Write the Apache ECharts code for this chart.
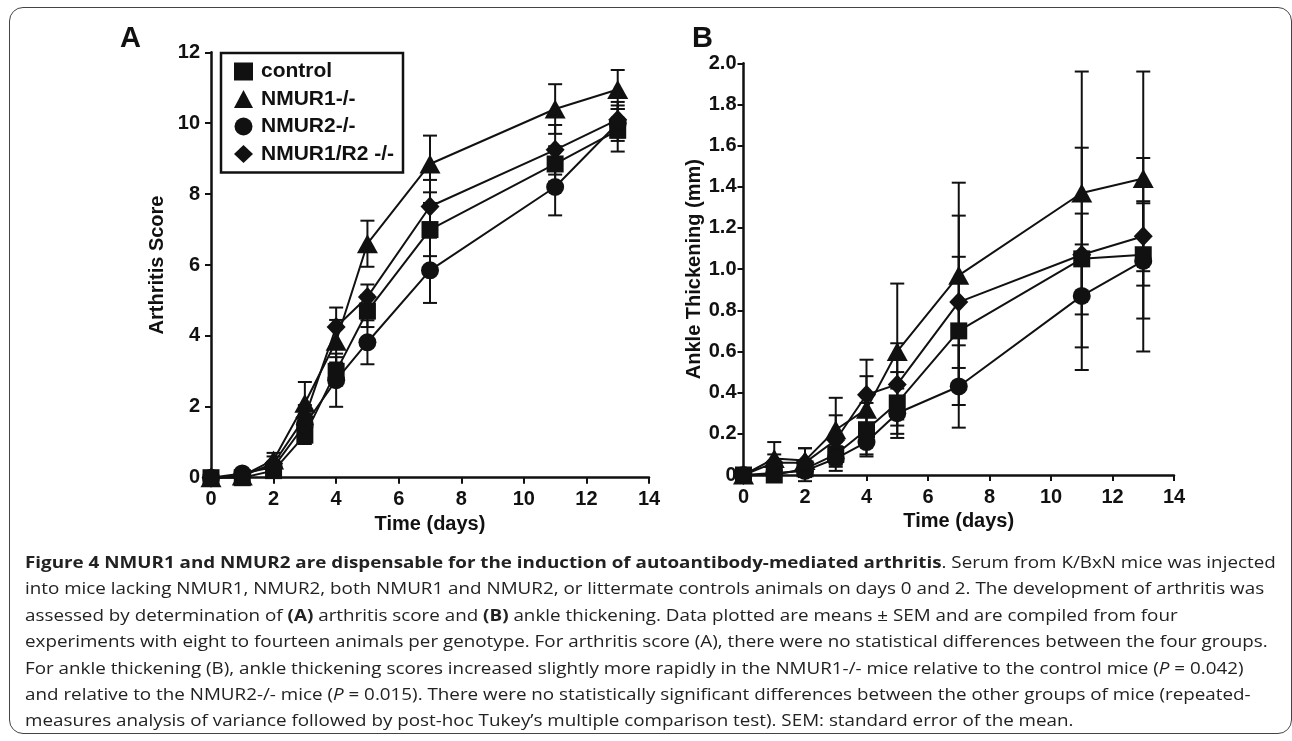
<!DOCTYPE html>
<html>
<head>
<meta charset="utf-8">
<script src="https://cdn.jsdelivr.net/npm/echarts@6/dist/echarts.min.js"></script>
<style>
  html, body { margin: 0; padding: 0; background: #fff; }
  #wrap { position: relative; width: 1292px; height: 741px; overflow: hidden; }
  #chart { position: absolute; left: 0; top: 0; width: 1292px; height: 741px; }
  #frame { position: absolute; left: 9px; top: 7px; width: 1283px; height: 727px; border: 1.5px solid #444; border-radius: 14px; box-sizing: border-box; pointer-events: none; }
  #caption { position: absolute; left: 25px; top: 549px; font-family: "Open Sans", "Noto Sans", sans-serif; font-size: 16.5px; line-height: 26.4px; color: #222; transform: scaleX(1.14); transform-origin: 0 0; }
  #caption div { white-space: nowrap; }
</style>
</head>
<body>
<div id="wrap">
  <div id="chart"></div>
  <div id="frame"></div>
  <div id="caption">
    <div><b>Figure 4 NMUR1 and NMUR2 are dispensable for the induction of autoantibody-mediated arthritis</b>. Serum from K/BxN mice was injected</div>
    <div>into mice lacking NMUR1, NMUR2, both NMUR1 and NMUR2, or littermate controls animals on days 0 and 2. The development of arthritis was</div>
    <div>assessed by determination of <b>(A)</b> arthritis score and <b>(B)</b> ankle thickening. Data plotted are means ± SEM and are compiled from four</div>
    <div>experiments with eight to fourteen animals per genotype. For arthritis score (A), there were no statistical differences between the four groups.</div>
    <div>For ankle thickening (B), ankle thickening scores increased slightly more rapidly in the NMUR1-/- mice relative to the control mice (<i>P</i> = 0.042)</div>
    <div>and relative to the NMUR2-/- mice (<i>P</i> = 0.015). There were no statistically significant differences between the other groups of mice (repeated-</div>
    <div>measures analysis of variance followed by post-hoc Tukey’s multiple comparison test). SEM: standard error of the mean.</div>
  </div>
</div>
<script>
// ---- data ----
var days = [0, 1, 2, 3, 4, 5, 7, 11, 13];
var groupNames = ['control', 'NMUR1-/-', 'NMUR2-/-', 'NMUR1/R2 -/-'];

// Panel A: arthritis score (mean, SEM)
var controlA     = [0, 0,    0.2,  1.2,  3.0,  4.7,  7.0,  8.85, 9.8];
var controlA_sem = [0, 0,    0.1,  0.25, 0.4,  0.45, 0.75, 0.5,  0.6];
var nmur1A       = [0, 0.05, 0.5,  2.1,  3.85, 6.6,  8.85, 10.4, 10.95];
var nmur1A_sem   = [0, 0.05, 0.2,  0.6,  0.6,  0.65, 0.8,  0.7,  0.55];
var nmur2A       = [0, 0.12, 0.3,  1.5,  2.75, 3.82, 5.85, 8.2,  10.0];
var nmur2A_sem   = [0, 0.08, 0.15, 0.3,  0.75, 0.62, 0.92, 0.8,  0.5];
var dkoA         = [0, 0.05, 0.4,  1.7,  4.25, 5.1,  7.65, 9.25, 10.1];
var dkoA_sem     = [0, 0.05, 0.2,  0.35, 0.55, 0.35, 0.75, 0.7,  0.5];

// Panel B: ankle thickening in mm (mean, SEM)
var controlB     = [0, 0.0,  0.03, 0.10, 0.22, 0.35, 0.70, 1.05, 1.07];
var controlB_sem = [0, 0.02, 0.03, 0.06, 0.13, 0.15, 0.36, 0.54, 0.47];
var nmur1B       = [0, 0.08, 0.07, 0.22, 0.32, 0.60, 0.97, 1.37, 1.44];
var nmur1B_sem   = [0, 0.08, 0.06, 0.155,0.16, 0.33, 0.45, 0.59, 0.52];
var nmur2B       = [0, 0.01, 0.02, 0.08, 0.16, 0.30, 0.43, 0.87, 1.04];
var nmur2B_sem   = [0, 0.01, 0.05, 0.06, 0.06, 0.12, 0.20, 0.25, 0.28];
var dkoB         = [0, 0.06, 0.06, 0.17, 0.39, 0.44, 0.84, 1.07, 1.16];
var dkoB_sem     = [0, 0.04, 0.07, 0.12, 0.17, 0.20, 0.42, 0.20, 0.17];

var xTicks = [0, 2, 4, 6, 8, 10, 12, 14];
var yTicksA = [0, 2, 4, 6, 8, 10, 12];
var yTickLabelsB = ['0', '0.2', '0.4', '0.6', '0.8', '1.0', '1.2', '1.4', '1.6', '1.8', '2.0'];

// ---- chart ----
var FONT = '"Liberation Sans", Arial, sans-serif';
var INK = '#111';
var symbols = ['rect', 'triangle', 'circle', 'diamond'];
var symbolSizes = [17, [21, 19], 18, [19, 20]];

function lineSeries(idx, panel, ys) {
  return {
    type: 'line', name: groupNames[idx], xAxisIndex: panel, yAxisIndex: panel,
    data: days.map(function (d, i) { return [d, ys[i]]; }),
    symbol: symbols[idx], symbolSize: symbolSizes[idx], showSymbol: true,
    color: INK,
    lineStyle: { color: INK, width: 2 }, itemStyle: { color: INK },
    z: 3, clip: false, animation: false, silent: true
  };
}
function errSeries(idx, panel, ys, sems) {
  return {
    type: 'custom', name: groupNames[idx] + ' SEM', xAxisIndex: panel, yAxisIndex: panel,
    data: days.map(function (d, i) { return [d, ys[i], sems[i]]; }),
    encode: { x: 0, y: 1 }, z: 2, clip: false, animation: false, silent: true,
    renderItem: function (params, api) {
      var x = api.value(0), y = api.value(1), s = api.value(2);
      if (!s) return null;
      var t = api.coord([x, y + s]), b = api.coord([x, y - s]), w = 7;
      var st = { stroke: INK, lineWidth: 2 };
      return { type: 'group', children: [
        { type: 'line', shape: { x1: t[0], y1: t[1], x2: b[0], y2: b[1] }, style: st },
        { type: 'line', shape: { x1: t[0] - w, y1: t[1], x2: t[0] + w, y2: t[1] }, style: st },
        { type: 'line', shape: { x1: b[0] - w, y1: b[1], x2: b[0] + w, y2: b[1] }, style: st }
      ]};
    }
  };
}

var axisCommon = {
  axisLine: { show: true, lineStyle: { color: INK, width: 2.5 } },
  axisTick: { show: true, length: 6, lineStyle: { color: INK, width: 2 } },
  splitLine: { show: false },
  axisLabel: { color: INK, fontFamily: FONT, fontWeight: 'bold', fontSize: 20 },
  nameTextStyle: { color: INK, fontFamily: FONT, fontWeight: 'bold', fontSize: 20 }
};
function merge(a, b) { var o = {}; for (var k in a) o[k] = a[k]; for (var k2 in b) o[k2] = b[k2]; return o; }

var option = {
  animation: false,
  color: [INK],
  grid: [
    { left: 211, top: 52.3, width: 438, height: 425.4 },
    { left: 743.5, top: 63.3, width: 430.5, height: 411.7 }
  ],
  xAxis: [
    merge(axisCommon, { type: 'value', gridIndex: 0, min: xTicks[0], max: xTicks[xTicks.length - 1], interval: 2,
      name: 'Time (days)', nameLocation: 'middle', nameGap: 33,
      axisLabel: merge(axisCommon.axisLabel, { margin: 12 }) }),
    merge(axisCommon, { type: 'value', gridIndex: 1, min: xTicks[0], max: xTicks[xTicks.length - 1], interval: 2,
      name: 'Time (days)', nameLocation: 'middle', nameGap: 33,
      axisLabel: merge(axisCommon.axisLabel, { margin: 12 }) })
  ],
  yAxis: [
    merge(axisCommon, { type: 'value', gridIndex: 0, min: yTicksA[0], max: yTicksA[yTicksA.length - 1], interval: 2,
      name: 'Arthritis Score', nameLocation: 'middle', nameGap: 44,
      axisLabel: merge(axisCommon.axisLabel, { margin: 11 }) }),
    merge(axisCommon, { type: 'value', gridIndex: 1, min: 0, max: 2, interval: 0.2,
      name: 'Ankle Thickening (mm)', nameLocation: 'middle', nameGap: 38,
      axisLabel: merge(axisCommon.axisLabel, { margin: 7,
        formatter: function (v) { return yTickLabelsB[Math.round(v / 0.2)]; } }) })
  ],
  legend: {
    left: 221, top: 53, orient: 'vertical',
    data: groupNames.map(function (n, i) { return { name: n, icon: symbols[i], itemStyle: { color: INK } }; }),
    itemWidth: 19, itemHeight: 18, itemGap: 6.5,
    padding: [8, 9, 8, 13],
    borderColor: INK, borderWidth: 2.5,
    itemStyle: { color: INK },
    textStyle: { color: INK, fontFamily: FONT, fontWeight: 'bold', fontSize: 21, lineHeight: 18, padding: [0, 0, 0, 3] },
    selectedMode: false
  },
  graphic: [
    { type: 'text', left: 120, top: 24, style: { text: 'A', font: 'bold 29px ' + FONT, fill: INK } },
    { type: 'text', left: 692, top: 24, style: { text: 'B', font: 'bold 29px ' + FONT, fill: INK } }
  ],
  series: [
    errSeries(0, 0, controlA, controlA_sem), errSeries(1, 0, nmur1A, nmur1A_sem),
    errSeries(2, 0, nmur2A, nmur2A_sem), errSeries(3, 0, dkoA, dkoA_sem),
    lineSeries(0, 0, controlA), lineSeries(1, 0, nmur1A), lineSeries(2, 0, nmur2A), lineSeries(3, 0, dkoA),
    errSeries(0, 1, controlB, controlB_sem), errSeries(1, 1, nmur1B, nmur1B_sem),
    errSeries(2, 1, nmur2B, nmur2B_sem), errSeries(3, 1, dkoB, dkoB_sem),
    lineSeries(0, 1, controlB), lineSeries(1, 1, nmur1B), lineSeries(2, 1, nmur2B), lineSeries(3, 1, dkoB)
  ]
};

var chart = echarts.init(document.getElementById('chart'), null, { renderer: 'canvas' });
chart.setOption(option);
</script>
</body>
</html>
